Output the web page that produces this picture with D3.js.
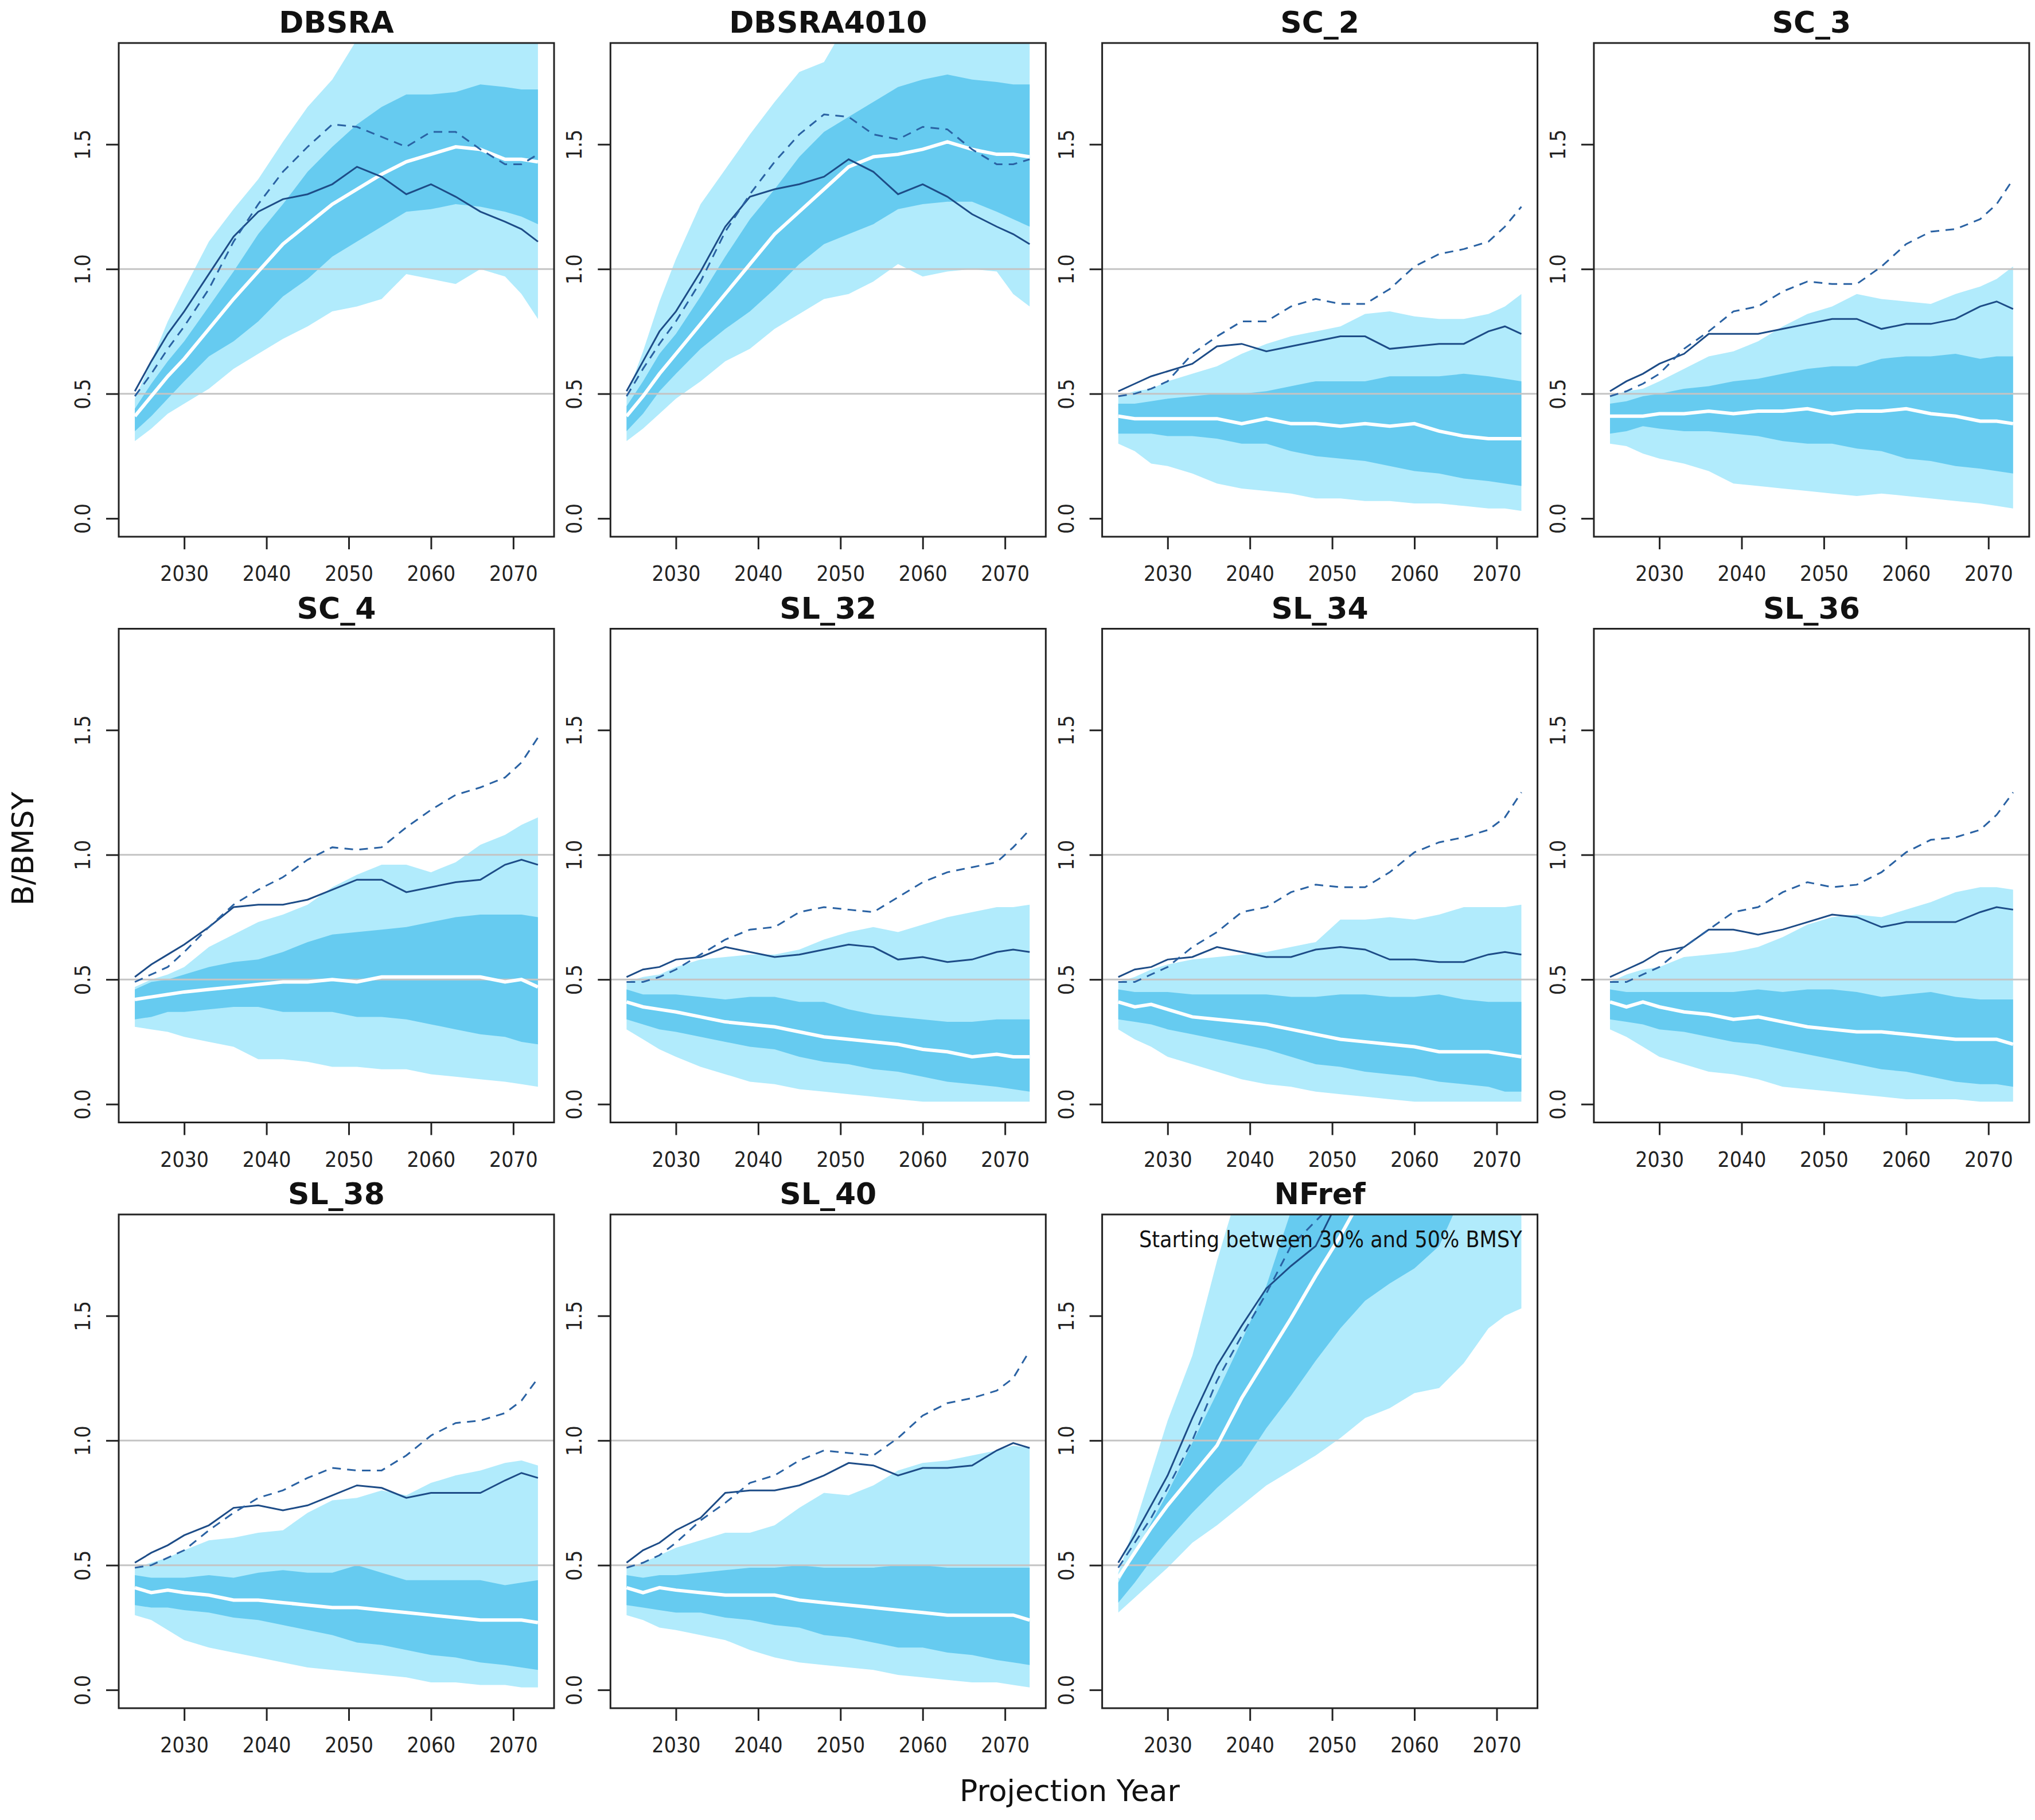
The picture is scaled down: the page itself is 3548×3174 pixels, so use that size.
<!DOCTYPE html>
<html>
<head>
<meta charset="utf-8">
<script src="https://cdn.jsdelivr.net/npm/d3@7"></script>
<style>
  body { margin: 0; background: #fff; }
  svg { display: block; }
  text { font-family: "DejaVu Sans", sans-serif; }
</style>
</head>
<body>
<svg id="chart"></svg>
<script>
// projection years
const years = [2024, 2026, 2028, 2030, 2033, 2036, 2039, 2042, 2045, 2048, 2051, 2054, 2057, 2060, 2063, 2066, 2069, 2071, 2073];
const yTicks = [0, 0.5, 1, 1.5];
const xTicks = [2030, 2040, 2050, 2060, 2070];
const refLines = [0.5, 1];

// DBSRA
const dbsra_lo90 = [0.31,0.36,0.42,0.46,0.52,0.60,0.66,0.72,0.77,0.83,0.85,0.88,0.98,0.96,0.94,1.00,0.97,0.90,0.80];
const dbsra_hi90 = [0.48,0.63,0.79,0.92,1.11,1.24,1.36,1.51,1.65,1.76,1.92,2.2,2.3,2.3,2.3,2.3,2.3,2.3,2.3];
const dbsra_lo50 = [0.35,0.41,0.48,0.55,0.65,0.71,0.79,0.89,0.96,1.05,1.11,1.17,1.23,1.24,1.26,1.25,1.23,1.21,1.18];
const dbsra_hi50 = [0.44,0.54,0.63,0.71,0.85,0.99,1.14,1.26,1.39,1.49,1.58,1.65,1.70,1.70,1.71,1.74,1.73,1.72,1.72];
const dbsra_med = [0.41,0.49,0.57,0.64,0.76,0.88,0.99,1.10,1.18,1.26,1.32,1.38,1.43,1.46,1.49,1.48,1.44,1.44,1.43];
const dbsra_sim1 = [0.51,0.63,0.74,0.83,0.98,1.13,1.23,1.28,1.30,1.34,1.41,1.37,1.30,1.34,1.29,1.23,1.19,1.16,1.11];
const dbsra_sim2 = [0.49,0.58,0.68,0.77,0.92,1.11,1.26,1.39,1.49,1.58,1.57,1.53,1.49,1.55,1.55,1.48,1.42,1.42,1.46];

// DBSRA4010
const dbsra4010_lo90 = [0.31,0.36,0.42,0.48,0.55,0.63,0.68,0.76,0.82,0.88,0.90,0.95,1.02,0.97,0.99,1.00,0.99,0.90,0.85];
const dbsra4010_hi90 = [0.49,0.67,0.87,1.04,1.26,1.40,1.54,1.67,1.79,1.83,2.0,2.2,2.3,2.3,2.3,2.3,2.3,2.3,2.3];
const dbsra4010_lo50 = [0.35,0.42,0.51,0.58,0.68,0.76,0.83,0.92,1.02,1.10,1.14,1.18,1.24,1.26,1.27,1.27,1.23,1.20,1.17];
const dbsra4010_hi50 = [0.45,0.55,0.66,0.74,0.89,1.05,1.20,1.32,1.45,1.55,1.61,1.67,1.73,1.76,1.78,1.76,1.75,1.74,1.74];
const dbsra4010_med = [0.41,0.49,0.58,0.66,0.78,0.90,1.02,1.14,1.23,1.32,1.41,1.45,1.46,1.48,1.51,1.48,1.46,1.46,1.45];
const dbsra4010_sim1 = [0.51,0.63,0.75,0.83,0.99,1.17,1.29,1.32,1.34,1.37,1.44,1.39,1.30,1.34,1.29,1.22,1.17,1.14,1.10];
const dbsra4010_sim2 = [0.49,0.60,0.70,0.79,0.95,1.15,1.30,1.43,1.54,1.62,1.61,1.54,1.52,1.57,1.56,1.48,1.42,1.42,1.44];

// SC_2
const sc2_lo90 = [0.30,0.27,0.22,0.21,0.18,0.14,0.12,0.11,0.10,0.08,0.08,0.07,0.07,0.06,0.06,0.05,0.04,0.04,0.03];
const sc2_hi90 = [0.49,0.51,0.52,0.55,0.58,0.61,0.66,0.70,0.73,0.75,0.77,0.82,0.83,0.81,0.80,0.80,0.82,0.85,0.90];
const sc2_lo50 = [0.34,0.34,0.34,0.33,0.33,0.32,0.30,0.30,0.27,0.25,0.24,0.23,0.21,0.19,0.18,0.16,0.15,0.14,0.13];
const sc2_hi50 = [0.46,0.46,0.47,0.48,0.49,0.50,0.50,0.51,0.53,0.55,0.55,0.55,0.57,0.57,0.57,0.58,0.57,0.56,0.55];
const sc2_med = [0.41,0.40,0.40,0.40,0.40,0.40,0.38,0.40,0.38,0.38,0.37,0.38,0.37,0.38,0.35,0.33,0.32,0.32,0.32];
const sc2_sim1 = [0.51,0.54,0.57,0.59,0.62,0.69,0.70,0.67,0.69,0.71,0.73,0.73,0.68,0.69,0.70,0.70,0.75,0.77,0.74];
const sc2_sim2 = [0.49,0.50,0.52,0.55,0.66,0.73,0.79,0.79,0.85,0.88,0.86,0.86,0.92,1.01,1.06,1.08,1.11,1.17,1.25];

// SC_3
const sc3_lo90 = [0.30,0.29,0.26,0.24,0.22,0.19,0.14,0.13,0.12,0.11,0.10,0.09,0.10,0.09,0.08,0.07,0.06,0.05,0.04];
const sc3_hi90 = [0.49,0.51,0.52,0.55,0.60,0.65,0.67,0.71,0.77,0.82,0.85,0.90,0.88,0.87,0.86,0.90,0.93,0.96,1.01];
const sc3_lo50 = [0.34,0.35,0.37,0.36,0.35,0.35,0.34,0.33,0.31,0.30,0.30,0.28,0.27,0.24,0.23,0.21,0.20,0.19,0.18];
const sc3_hi50 = [0.46,0.47,0.49,0.50,0.52,0.53,0.55,0.56,0.58,0.60,0.61,0.61,0.64,0.65,0.65,0.66,0.64,0.65,0.65];
const sc3_med = [0.41,0.41,0.41,0.42,0.42,0.43,0.42,0.43,0.43,0.44,0.42,0.43,0.43,0.44,0.42,0.41,0.39,0.39,0.38];
const sc3_sim1 = [0.51,0.55,0.58,0.62,0.66,0.74,0.74,0.74,0.76,0.78,0.80,0.80,0.76,0.78,0.78,0.80,0.85,0.87,0.84];
const sc3_sim2 = [0.49,0.51,0.54,0.58,0.68,0.75,0.83,0.85,0.91,0.95,0.94,0.94,1.01,1.10,1.15,1.16,1.20,1.26,1.36];

// SC_4
const sc4_lo90 = [0.31,0.30,0.29,0.27,0.25,0.23,0.18,0.18,0.17,0.15,0.15,0.14,0.14,0.12,0.11,0.10,0.09,0.08,0.07];
const sc4_hi90 = [0.47,0.50,0.52,0.55,0.63,0.68,0.73,0.76,0.80,0.87,0.92,0.96,0.96,0.93,0.97,1.04,1.08,1.12,1.15];
const sc4_lo50 = [0.34,0.35,0.37,0.37,0.38,0.39,0.39,0.37,0.37,0.37,0.35,0.35,0.34,0.32,0.30,0.28,0.27,0.25,0.24];
const sc4_hi50 = [0.46,0.49,0.50,0.52,0.55,0.57,0.58,0.61,0.65,0.68,0.69,0.70,0.71,0.73,0.75,0.76,0.76,0.76,0.75];
const sc4_med = [0.42,0.43,0.44,0.45,0.46,0.47,0.48,0.49,0.49,0.50,0.49,0.51,0.51,0.51,0.51,0.51,0.49,0.50,0.47];
const sc4_sim1 = [0.51,0.56,0.60,0.64,0.71,0.79,0.80,0.80,0.82,0.86,0.90,0.90,0.85,0.87,0.89,0.90,0.96,0.98,0.96];
const sc4_sim2 = [0.49,0.52,0.55,0.61,0.71,0.80,0.86,0.91,0.98,1.03,1.02,1.03,1.11,1.18,1.24,1.27,1.31,1.37,1.47];

// SL_32
const sl32_lo90 = [0.30,0.26,0.22,0.19,0.15,0.12,0.09,0.08,0.06,0.05,0.04,0.03,0.02,0.01,0.01,0.01,0.01,0.01,0.01];
const sl32_hi90 = [0.49,0.51,0.52,0.55,0.58,0.59,0.60,0.60,0.62,0.66,0.69,0.71,0.69,0.72,0.75,0.77,0.79,0.79,0.80];
const sl32_lo50 = [0.34,0.32,0.30,0.29,0.27,0.25,0.23,0.22,0.19,0.17,0.16,0.14,0.13,0.11,0.09,0.08,0.07,0.06,0.05];
const sl32_hi50 = [0.46,0.44,0.44,0.44,0.43,0.42,0.43,0.43,0.41,0.41,0.38,0.36,0.35,0.34,0.33,0.33,0.34,0.34,0.34];
const sl32_med = [0.41,0.39,0.38,0.37,0.35,0.33,0.32,0.31,0.29,0.27,0.26,0.25,0.24,0.22,0.21,0.19,0.20,0.19,0.19];
const sl32_sim1 = [0.51,0.54,0.55,0.58,0.59,0.63,0.61,0.59,0.60,0.62,0.64,0.63,0.58,0.59,0.57,0.58,0.61,0.62,0.61];
const sl32_sim2 = [0.49,0.49,0.51,0.54,0.60,0.66,0.70,0.71,0.77,0.79,0.78,0.77,0.83,0.89,0.93,0.95,0.97,1.03,1.10];

// SL_34
const sl34_lo90 = [0.30,0.26,0.23,0.19,0.16,0.13,0.10,0.08,0.07,0.05,0.04,0.03,0.02,0.01,0.01,0.01,0.01,0.01,0.01];
const sl34_hi90 = [0.49,0.51,0.54,0.56,0.58,0.59,0.60,0.61,0.63,0.65,0.74,0.74,0.75,0.74,0.76,0.79,0.79,0.79,0.80];
const sl34_lo50 = [0.34,0.33,0.32,0.30,0.28,0.26,0.24,0.22,0.19,0.16,0.15,0.13,0.12,0.11,0.09,0.08,0.07,0.05,0.05];
const sl34_hi50 = [0.46,0.45,0.45,0.45,0.44,0.44,0.44,0.44,0.43,0.43,0.44,0.44,0.43,0.43,0.44,0.42,0.41,0.41,0.41];
const sl34_med = [0.41,0.39,0.40,0.38,0.35,0.34,0.33,0.32,0.30,0.28,0.26,0.25,0.24,0.23,0.21,0.21,0.21,0.20,0.19];
const sl34_sim1 = [0.51,0.54,0.55,0.58,0.59,0.63,0.61,0.59,0.59,0.62,0.63,0.62,0.58,0.58,0.57,0.57,0.60,0.61,0.60];
const sl34_sim2 = [0.49,0.49,0.52,0.55,0.63,0.69,0.77,0.79,0.85,0.88,0.87,0.87,0.93,1.01,1.05,1.07,1.10,1.15,1.25];

// SL_36
const sl36_lo90 = [0.30,0.27,0.23,0.19,0.16,0.13,0.12,0.10,0.07,0.06,0.05,0.04,0.03,0.02,0.02,0.02,0.01,0.01,0.01];
const sl36_hi90 = [0.49,0.52,0.54,0.55,0.59,0.60,0.61,0.63,0.67,0.72,0.75,0.76,0.75,0.78,0.81,0.85,0.87,0.87,0.86];
const sl36_lo50 = [0.34,0.33,0.32,0.30,0.29,0.27,0.25,0.24,0.22,0.20,0.18,0.16,0.14,0.13,0.11,0.09,0.08,0.08,0.07];
const sl36_hi50 = [0.46,0.45,0.45,0.45,0.45,0.45,0.45,0.46,0.45,0.46,0.46,0.45,0.43,0.44,0.45,0.43,0.42,0.42,0.42];
const sl36_med = [0.41,0.39,0.41,0.39,0.37,0.36,0.34,0.35,0.33,0.31,0.30,0.29,0.29,0.28,0.27,0.26,0.26,0.26,0.24];
const sl36_sim1 = [0.51,0.54,0.57,0.61,0.63,0.70,0.70,0.68,0.70,0.73,0.76,0.75,0.71,0.73,0.73,0.73,0.77,0.79,0.78];
const sl36_sim2 = [0.49,0.49,0.52,0.55,0.63,0.70,0.77,0.79,0.85,0.89,0.87,0.88,0.93,1.01,1.06,1.07,1.10,1.16,1.25];

// SL_38
const sl38_lo90 = [0.30,0.28,0.24,0.20,0.17,0.15,0.13,0.11,0.09,0.08,0.07,0.06,0.05,0.03,0.03,0.02,0.02,0.01,0.01];
const sl38_hi90 = [0.49,0.51,0.53,0.56,0.60,0.61,0.63,0.64,0.71,0.76,0.77,0.80,0.78,0.83,0.86,0.88,0.91,0.92,0.90];
const sl38_lo50 = [0.34,0.33,0.33,0.32,0.31,0.29,0.28,0.26,0.24,0.22,0.19,0.18,0.16,0.14,0.13,0.11,0.10,0.09,0.08];
const sl38_hi50 = [0.46,0.45,0.45,0.45,0.46,0.45,0.47,0.48,0.47,0.47,0.50,0.47,0.44,0.44,0.44,0.44,0.42,0.43,0.44];
const sl38_med = [0.41,0.39,0.40,0.39,0.38,0.36,0.36,0.35,0.34,0.33,0.33,0.32,0.31,0.30,0.29,0.28,0.28,0.28,0.27];
const sl38_sim1 = [0.51,0.55,0.58,0.62,0.66,0.73,0.74,0.72,0.74,0.78,0.82,0.81,0.77,0.79,0.79,0.79,0.84,0.87,0.85];
const sl38_sim2 = [0.49,0.50,0.53,0.56,0.64,0.71,0.77,0.80,0.85,0.89,0.88,0.88,0.94,1.02,1.07,1.08,1.11,1.16,1.25];

// SL_40
const sl40_lo90 = [0.30,0.28,0.25,0.24,0.22,0.20,0.16,0.13,0.11,0.10,0.09,0.08,0.06,0.05,0.04,0.03,0.03,0.02,0.01];
const sl40_hi90 = [0.49,0.51,0.54,0.57,0.60,0.63,0.63,0.66,0.73,0.79,0.78,0.82,0.88,0.91,0.92,0.94,0.96,0.98,0.97];
const sl40_lo50 = [0.34,0.33,0.32,0.31,0.31,0.29,0.28,0.26,0.25,0.22,0.21,0.19,0.17,0.17,0.15,0.14,0.12,0.11,0.10];
const sl40_hi50 = [0.46,0.45,0.46,0.46,0.47,0.48,0.49,0.49,0.50,0.49,0.49,0.49,0.50,0.50,0.49,0.49,0.49,0.49,0.49];
const sl40_med = [0.41,0.39,0.41,0.40,0.39,0.38,0.38,0.38,0.36,0.35,0.34,0.33,0.32,0.31,0.30,0.30,0.30,0.30,0.28];
const sl40_sim1 = [0.51,0.56,0.59,0.64,0.69,0.79,0.80,0.80,0.82,0.86,0.91,0.90,0.86,0.89,0.89,0.90,0.96,0.99,0.97];
const sl40_sim2 = [0.49,0.51,0.54,0.59,0.68,0.75,0.83,0.86,0.92,0.96,0.95,0.94,1.01,1.10,1.15,1.17,1.20,1.25,1.36];

// NFref (values past the top of the frame are clipped)
const nfref_lo90 = [0.31,0.37,0.43,0.49,0.59,0.66,0.74,0.82,0.88,0.94,1.01,1.09,1.13,1.19,1.21,1.31,1.45,1.50,1.53];
const nfref_hi90 = [0.47,0.66,0.87,1.08,1.34,1.72,2.05,2.3,2.5,2.7,2.9,3.0,3.1,3.2,3.3,3.4,3.5,3.5,3.6];
const nfref_lo50 = [0.35,0.43,0.52,0.60,0.71,0.81,0.90,1.05,1.18,1.32,1.45,1.56,1.63,1.69,1.78,2.0,2.1,2.15,2.2];
const nfref_hi50 = [0.43,0.55,0.67,0.79,0.99,1.19,1.40,1.62,1.92,2.1,2.3,2.5,2.7,2.9,3.0,3.1,3.2,3.3,3.4];
const nfref_med = [0.45,0.55,0.65,0.74,0.86,0.98,1.17,1.33,1.49,1.66,1.82,2.0,2.2,2.4,2.6,2.8,3.0,3.1,3.2];
const nfref_sim1 = [0.51,0.62,0.74,0.86,1.09,1.30,1.46,1.61,1.70,1.78,1.98,2.2,2.4,2.6,2.8,3.0,3.2,3.3,3.4];
const nfref_sim2 = [0.49,0.59,0.69,0.81,1.00,1.24,1.42,1.59,1.78,1.88,1.98,2.2,2.4,2.6,2.8,3.0,3.2,3.3,3.4];

const panels = [
  { name: "DBSRA", lo90: dbsra_lo90, hi90: dbsra_hi90, lo50: dbsra_lo50, hi50: dbsra_hi50, med: dbsra_med, sim1: dbsra_sim1, sim2: dbsra_sim2 },
  { name: "DBSRA4010", lo90: dbsra4010_lo90, hi90: dbsra4010_hi90, lo50: dbsra4010_lo50, hi50: dbsra4010_hi50, med: dbsra4010_med, sim1: dbsra4010_sim1, sim2: dbsra4010_sim2 },
  { name: "SC_2", lo90: sc2_lo90, hi90: sc2_hi90, lo50: sc2_lo50, hi50: sc2_hi50, med: sc2_med, sim1: sc2_sim1, sim2: sc2_sim2 },
  { name: "SC_3", lo90: sc3_lo90, hi90: sc3_hi90, lo50: sc3_lo50, hi50: sc3_hi50, med: sc3_med, sim1: sc3_sim1, sim2: sc3_sim2 },
  { name: "SC_4", lo90: sc4_lo90, hi90: sc4_hi90, lo50: sc4_lo50, hi50: sc4_hi50, med: sc4_med, sim1: sc4_sim1, sim2: sc4_sim2 },
  { name: "SL_32", lo90: sl32_lo90, hi90: sl32_hi90, lo50: sl32_lo50, hi50: sl32_hi50, med: sl32_med, sim1: sl32_sim1, sim2: sl32_sim2 },
  { name: "SL_34", lo90: sl34_lo90, hi90: sl34_hi90, lo50: sl34_lo50, hi50: sl34_hi50, med: sl34_med, sim1: sl34_sim1, sim2: sl34_sim2 },
  { name: "SL_36", lo90: sl36_lo90, hi90: sl36_hi90, lo50: sl36_lo50, hi50: sl36_hi50, med: sl36_med, sim1: sl36_sim1, sim2: sl36_sim2 },
  { name: "SL_38", lo90: sl38_lo90, hi90: sl38_hi90, lo50: sl38_lo50, hi50: sl38_hi50, med: sl38_med, sim1: sl38_sim1, sim2: sl38_sim2 },
  { name: "SL_40", lo90: sl40_lo90, hi90: sl40_hi90, lo50: sl40_lo50, hi50: sl40_hi50, med: sl40_med, sim1: sl40_sim1, sim2: sl40_sim2 },
  { name: "NFref", lo90: nfref_lo90, hi90: nfref_hi90, lo50: nfref_lo50, hi50: nfref_hi50, med: nfref_med, sim1: nfref_sim1, sim2: nfref_sim2 },
];

const width = 3548,
  height = 3174;
const left0 = 207,
  top0 = 75,
  stepX = 857.3,
  stepY = 1021.5,
  pw = 759,
  ph = 861;

const lightBand = "#b1ebfc",
  darkBand = "#66cbf0",
  navy = "#1d4c87",
  dashBlue = "#2a62a3";

const svg = d3.select("#chart").attr("width", width).attr("height", height);

const x = d3.scaleLinear().domain([2022.04, 2074.96]).range([0, pw]);
const y = d3.scaleLinear().domain([-0.0733, 1.9063]).range([ph, 0]);

function band(lo, hi) {
  return d3
    .area()
    .x((d) => x(d))
    .y0((d, i) => y(lo[i]))
    .y1((d, i) => y(hi[i]));
}

function trace(vals) {
  return d3
    .line()
    .x((d) => x(d))
    .y((d, i) => y(vals[i]));
}

panels.forEach((p, k) => {
  const col = k % 4,
    row = Math.floor(k / 4);
  const g = svg
    .append("g")
    .attr("transform", `translate(${left0 + col * stepX},${top0 + row * stepY})`);

  g.append("clipPath")
    .attr("id", "clip" + k)
    .append("rect")
    .attr("width", pw)
    .attr("height", ph);

  const plot = g.append("g").attr("clip-path", `url(#clip${k})`);

  plot.append("path").datum(years).attr("d", band(p.lo90, p.hi90)).attr("fill", lightBand);
  plot.append("path").datum(years).attr("d", band(p.lo50, p.hi50)).attr("fill", darkBand);

  plot
    .selectAll("line.ref")
    .data(refLines)
    .join("line")
    .attr("class", "ref")
    .attr("x1", 0)
    .attr("x2", pw)
    .attr("y1", (d) => y(d))
    .attr("y2", (d) => y(d))
    .attr("stroke", "#c4c4c4")
    .attr("stroke-width", 3);

  plot.append("path").datum(years).attr("d", trace(p.med))
    .attr("fill", "none").attr("stroke", "#fff").attr("stroke-width", 6);
  plot.append("path").datum(years).attr("d", trace(p.sim1))
    .attr("fill", "none").attr("stroke", navy).attr("stroke-width", 3);
  plot.append("path").datum(years).attr("d", trace(p.sim2))
    .attr("fill", "none").attr("stroke", dashBlue).attr("stroke-width", 3)
    .attr("stroke-dasharray", "15,11");

  // y axis, labels turned like R's las=0
  const ya = g
    .append("g")
    .call(d3.axisLeft(y).tickValues(yTicks).tickSize(22).tickSizeOuter(0).tickFormat(d3.format(".1f")))
    .attr("font-size", 37)
    .attr("font-family", "DejaVu Sans")
    .attr("color", "#222");
  ya.select(".domain").remove();
  ya.selectAll(".tick line").attr("stroke-width", 3);
  ya.selectAll(".tick text")
    .attr("x", null)
    .attr("dy", null)
    .attr("text-anchor", "middle")
    .attr("transform", "translate(-50,0) rotate(-90) scale(0.9,1)");

  // x axis
  const xa = g
    .append("g")
    .attr("transform", `translate(0,${ph})`)
    .call(d3.axisBottom(x).tickValues(xTicks).tickSize(22).tickSizeOuter(0).tickFormat(d3.format("d")))
    .attr("font-size", 37)
    .attr("font-family", "DejaVu Sans")
    .attr("color", "#222");
  xa.select(".domain").remove();
  xa.selectAll(".tick line").attr("stroke-width", 3);
  xa.selectAll(".tick text")
    .attr("y", null)
    .attr("dy", null)
    .attr("transform", "translate(0,77) scale(0.9,1)");

  g.append("rect")
    .attr("width", pw)
    .attr("height", ph)
    .attr("fill", "none")
    .attr("stroke", "#222")
    .attr("stroke-width", 3);

  g.append("text")
    .attr("x", pw / 2)
    .attr("y", -18)
    .attr("text-anchor", "middle")
    .attr("font-size", 52)
    .attr("font-weight", "bold")
    .attr("fill", "#111")
    .text(p.name);

  if (p.name === "NFref") {
    g.append("text")
      .attr("transform", `translate(${pw - 27},57) scale(0.9,1)`)
      .attr("text-anchor", "end")
      .attr("font-size", 39)
      .attr("fill", "#111")
      .text("Starting between 30% and 50% BMSY");
  }
});

svg.append("text")
  .attr("transform", "translate(58,1480) rotate(-90)")
  .attr("text-anchor", "middle")
  .attr("font-size", 52)
  .attr("fill", "#111")
  .text("B/BMSY");

svg.append("text")
  .attr("x", 1865)
  .attr("y", 3141)
  .attr("text-anchor", "middle")
  .attr("font-size", 52)
  .attr("fill", "#111")
  .text("Projection Year");
</script>
</body>
</html>
